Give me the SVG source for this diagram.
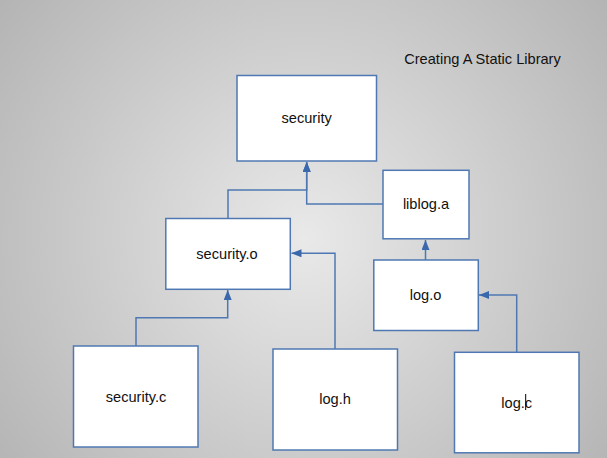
<svg xmlns="http://www.w3.org/2000/svg" width="607" height="458" viewBox="0 0 607 458">
  <defs>
    <radialGradient id="bg" gradientUnits="userSpaceOnUse" cx="305" cy="238" r="400">
      <stop offset="0" stop-color="#e9e9e9"/>
      <stop offset="1" stop-color="#b2b2b2"/>
    </radialGradient>
    <marker id="arr" viewBox="0 0 10 8" refX="10" refY="4" markerWidth="10" markerHeight="8" markerUnits="userSpaceOnUse" orient="auto">
      <path d="M0,0 L10,4 L0,8 Z" fill="#3a68ad"/>
    </marker>
    <style>
      .box { fill: #ffffff; stroke: #4f78b3; stroke-width: 1.5; }
      .lbl { font-family: "Liberation Sans", Arial, sans-serif; font-size: 14.6px; fill: #111111; text-anchor: middle; }
      .con { fill: none; stroke: #4f78b3; stroke-width: 1.5; }
    </style>
  </defs>
  <rect x="0" y="0" width="607" height="458" fill="url(#bg)"/>
  <text class="lbl" x="482.5" y="64">Creating A Static Library</text>

  <g id="connectors">
    <path class="con" d="M228,219 V190 H306.7 V162" marker-end="url(#arr)"/>
    <path class="con" d="M383,204 H306.7 V162" marker-end="url(#arr)"/>
    <path class="con" d="M425.5,260 V240" marker-end="url(#arr)"/>
    <path class="con" d="M136,346 V317.7 H227.7 V290" marker-end="url(#arr)"/>
    <path class="con" d="M335,349 V253.3 H291.5" marker-end="url(#arr)"/>
    <path class="con" d="M516.7,352 V295 H479" marker-end="url(#arr)"/>
  </g>

  <g id="security">
    <rect class="box" x="237" y="75.5" width="139.5" height="85.5"/>
    <text class="lbl" x="306.7" y="123">security</text>
  </g>
  <g id="liblog_a">
    <rect class="box" x="383" y="170.3" width="86" height="68.5"/>
    <text class="lbl" x="426" y="209">liblog.a</text>
  </g>
  <g id="security_o">
    <rect class="box" x="165.8" y="218.5" width="124.5" height="70.8"/>
    <text class="lbl" x="227" y="259">security.o</text>
  </g>
  <g id="log_o">
    <rect class="box" x="373.8" y="260" width="104.5" height="70.5"/>
    <text class="lbl" x="425.5" y="300">log.o</text>
  </g>
  <g id="security_c">
    <rect class="box" x="73.5" y="346" width="124.5" height="101"/>
    <text class="lbl" x="136" y="402">security.c</text>
  </g>
  <g id="log_h">
    <rect class="box" x="273" y="349" width="124.5" height="101"/>
    <text class="lbl" x="335" y="404">log.h</text>
  </g>
  <g id="log_c">
    <rect class="box" x="454.5" y="352.3" width="124.5" height="100.5"/>
    <text class="lbl" x="516.7" y="408">log.c</text>
    <line x1="525.7" y1="394" x2="525.7" y2="410" stroke="#000000" stroke-width="1"/>
  </g>
</svg>
